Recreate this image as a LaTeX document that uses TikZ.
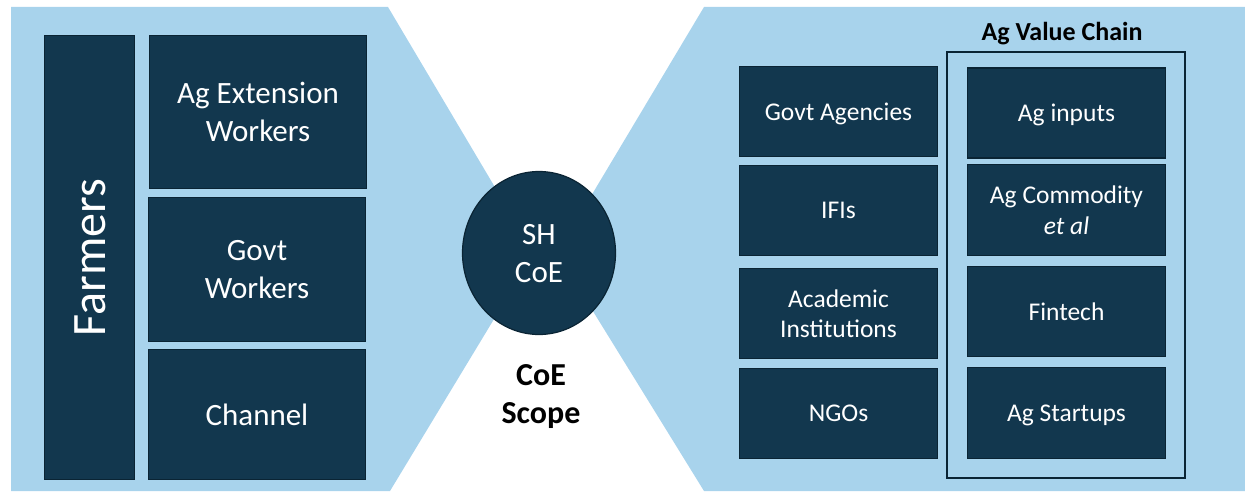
\documentclass[tikz,border=0pt]{standalone}
\usepackage{fontspec}
\setmainfont{Carlito}
\usetikzlibrary{shapes.geometric}
\definecolor{panelblue}{RGB}{168,211,236}
\definecolor{tileblue}{RGB}{18,55,78}
\definecolor{tileedge}{RGB}{10,36,52}
\newcommand{\capstrut}{\rule{0pt}{0.66em}}
\begin{document}
\begin{tikzpicture}[x=1pt, y=-1pt,
    capbox/.style={align=center, inner sep=0pt, text depth=0pt,
      execute at begin node=\capstrut},
    tile/.style={capbox, fill=tileblue, draw=tileedge, line width=1.2pt, text=white,
      font=\fontsize{25.5}{30.5}\selectfont},
    bigtile/.style={tile, font=\fontsize{31}{38}\selectfont},
    lefttile/.style={bigtile, minimum width=217pt},
    govtile/.style={tile, minimum width=198pt, minimum height=90pt},
    chaintile/.style={tile, minimum width=198pt, minimum height=90pt}]
        \useasboundingbox (0,0) rectangle (1245,492);

        % the two light panels that narrow towards the centre
        \fill[panelblue] (11,7) -- (388,7) -- (534,253) -- (390,491) -- (11,491) -- cycle;
        \fill[panelblue] (704,7) -- (1245,7) -- (1245,491) -- (704,491) -- (557,253) -- cycle;

        % left side
        \node[tile, rotate=90, minimum width=444pt, minimum height=90pt,
              font=\fontsize{48}{52}\selectfont] (farmers) at (89.5,257.5) {Farmers};
        \node[lefttile, minimum height=153pt] (extension) at (258,112) {Ag Extension\\Workers};
        \node[lefttile, minimum height=144pt] (govtworkers) at (257,269.5) {Govt\\Workers};
        \node[lefttile, minimum height=130pt] (channel) at (257,414.5) {Channel};

        % centre
        \node[tile, ellipse, minimum width=153pt, minimum height=163pt,
              font=\fontsize{31}{38}\selectfont] (hub) at (539,253) {SH\\CoE};
        \node[capbox, font=\bfseries\fontsize{32}{38}\selectfont] (scope) at (541,394) {CoE\\Scope};

        % right side
        \node[govtile] (agencies) at (838.5,111.5) {Govt Agencies};
        \node[govtile] (ifis) at (838.5,210.5) {IFIs};
        \node[govtile] (academic) at (838.5,313.5) {Academic\\Institutions};
        \node[govtile] (ngos) at (838.5,413.5) {NGOs};

        \draw[tileedge, line width=1.5pt] (947,52) rectangle (1185,478);
        \node[font=\bfseries\fontsize{26}{30}\selectfont] (chain) at (1062,34) {Ag Value Chain};

        \node[chaintile] (inputs) at (1066.5,113) {Ag inputs};
        \node[chaintile, minimum height=91pt] (commodity) at (1066.5,210) {Ag Commodity\\\textit{et al}};
        \node[chaintile] (fintech) at (1066.5,311.5) {Fintech};
        \node[chaintile, minimum height=91pt] (startups) at (1066.5,413) {Ag Startups};
\end{tikzpicture}
\end{document}
